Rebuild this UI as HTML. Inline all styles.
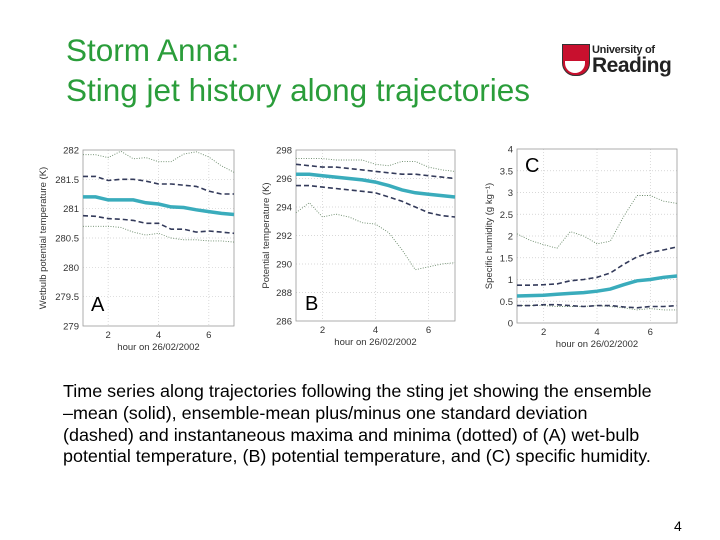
<!DOCTYPE html>
<html><head><meta charset="utf-8">
<style>
body{margin:0;width:720px;height:540px;background:#fff;position:relative;overflow:hidden;font-family:"Liberation Sans",Arial,sans-serif}
.title{position:absolute;left:66px;top:30px;color:#2a9d3a;font-size:31.5px;line-height:40px}
.caption{position:absolute;left:63px;top:381px;white-space:nowrap;font-size:17.95px;line-height:21.8px;color:#000}
.pnum{position:absolute;left:674px;top:518px;font-size:14px}
svg{position:absolute;left:0;top:0}
</style></head><body>
<div class="title">Storm Anna:<br>Sting jet history along trajectories</div>
<div style="position:absolute;left:562px;top:44px;width:105px;height:34px">
  <div style="position:absolute;left:0;top:0;width:26px;height:30px;background:#c8102e;border-radius:0 0 13px 13px;border:1px solid #333"></div>
  <div style="position:absolute;left:3px;top:17px;width:20px;height:12px;background:#fff;border-radius:0 0 10px 10px"></div>
  <div style="position:absolute;left:30px;top:0px;font-size:11px;font-weight:bold;color:#222;letter-spacing:-0.3px">University of</div>
  <div style="position:absolute;left:30px;top:10px;font-size:21px;font-weight:bold;color:#222;letter-spacing:-0.5px">Reading</div>
</div>
<svg id="chart" width="720" height="540"></svg>
<div class="caption">Time series along trajectories following the sting jet showing the ensemble<br>–mean (solid), ensemble-mean plus/minus one standard deviation<br>(dashed) and instantaneous maxima and minima (dotted) of (A) wet-bulb<br>potential temperature, (B) potential temperature, and (C) specific humidity.</div>
<div class="pnum">4</div>
<script>
const hours=[1,1.5,2,2.5,3,3.5,4,4.5,5,5.5,6,6.5,7];
const xTicks=[2,4,6];
const aTicks=[279,279.5,280,280.5,281,281.5,282];
const aMean=[281.2,281.2,281.15,281.15,281.15,281.1,281.08,281.03,281.02,280.98,280.95,280.92,280.9];
const aUp=[281.55,281.55,281.48,281.5,281.5,281.47,281.42,281.42,281.4,281.38,281.3,281.25,281.25];
const aLo=[280.88,280.87,280.83,280.82,280.8,280.75,280.75,280.65,280.65,280.6,280.62,280.6,280.58];
const aMax=[281.92,281.92,281.87,281.98,281.85,281.87,281.8,281.8,281.93,281.97,281.88,281.73,281.62];
const aMin=[280.7,280.7,280.7,280.68,280.6,280.55,280.58,280.5,280.47,280.47,280.45,280.45,280.43];
const bTicks=[286,288,290,292,294,296,298];
const bMean=[296.3,296.3,296.2,296.1,296.0,295.9,295.75,295.5,295.2,295.0,294.9,294.8,294.7];
const bUp=[297,296.9,296.8,296.8,296.7,296.6,296.5,296.4,296.3,296.3,296.2,296.1,296.0];
const bLo=[295.5,295.5,295.4,295.3,295.2,295.1,295.0,294.7,294.4,294.0,293.6,293.4,293.3];
const bMax=[297.4,297.4,297.4,297.3,297.3,297.3,297.0,296.9,297.2,297.2,296.8,296.6,296.5];
const bMin=[293.6,294.3,293.3,293.5,293.3,292.9,292.8,292.2,291.0,289.6,289.8,290.0,290.1];
const cTicks=[0,0.5,1,1.5,2,2.5,3,3.5,4];
const cMean=[0.62,0.63,0.64,0.66,0.68,0.7,0.73,0.78,0.88,0.97,1.0,1.05,1.08];
const cUp=[0.87,0.87,0.88,0.9,0.97,1.0,1.05,1.15,1.35,1.52,1.62,1.68,1.75];
const cLo=[0.4,0.4,0.42,0.42,0.4,0.38,0.4,0.4,0.37,0.35,0.38,0.38,0.4];
const cMax=[2.05,1.9,1.8,1.72,2.1,2.0,1.82,1.88,2.45,2.93,2.93,2.8,2.75];
const cMin=[0.4,0.4,0.4,0.38,0.38,0.38,0.4,0.38,0.35,0.3,0.33,0.3,0.3];

const svg=document.getElementById('chart');
const NS='http://www.w3.org/2000/svg';
function mk(t,a,p){const e=document.createElementNS(NS,t);for(const k in a)e.setAttribute(k,a[k]);(p||svg).appendChild(e);return e;}
function panel(id,L,R,T,B,ticks,tickLbl,ylabel,letter,lx,ly,series){
  const g=mk('g',{});
  
  
  const y0=ticks[0],y1=ticks[ticks.length-1];
  const sx=v=>L+(v-1)/6*(R-L), sy=v=>B-(v-y0)/(y1-y0)*(B-T);
  ticks.forEach(t=>{
    if(t!==y0&&t!==y1){const gl=mk('line',{x1:L,x2:R,y1:sy(t),y2:sy(t),stroke:'#ccc','stroke-width':0.7,'stroke-dasharray':'1 2'},g);
      }
    const tx=mk('text',{x:L-4,y:sy(t)+3.5,'text-anchor':'end','font-size':9.5,fill:'#333'},g);
    tx.textContent=tickLbl(t);
    
  });
  xTicks.forEach(t=>{
    const gl=mk('line',{x1:sx(t),x2:sx(t),y1:T,y2:B,stroke:'#ccc','stroke-width':0.7,'stroke-dasharray':'1 2'},g);
    
    const tx=mk('text',{x:sx(t),y:B+12,'text-anchor':'middle','font-size':9.5,fill:'#333'},g);
    tx.textContent=t;
    
  });
  const fr=mk('rect',{x:L,y:T,width:R-L,height:B-T,fill:'none',stroke:'#999','stroke-width':0.8},g);
  
  const xl=mk('text',{x:(L+R)/2,y:B+24,'text-anchor':'middle','font-size':9.5,fill:'#333'},g);
  xl.textContent='hour on 26/02/2002';
  
  const yl=mk('text',{x:0,y:0,'text-anchor':'middle','font-size':9.5,fill:'#333',transform:`translate(${ylabel[1]},${(T+B)/2}) rotate(-90)`},g);
  yl.textContent=ylabel[0];
  
  series.forEach(s=>{
    const d=s.v.map((v,i)=>(i?'L':'M')+sx(hours[i]).toFixed(1)+','+sy(v).toFixed(1)).join('');
    const p=mk('path',{d:d,fill:'none',stroke:s.c,'stroke-width':s.w,'stroke-dasharray':s.da||'none'},g);
    
  });
  const lt=mk('text',{x:lx,y:ly,'font-size':20,fill:'#000'},g);
  lt.textContent=letter;
  
}
function ser(mean,up,lo,mx,mn){return [
  {n:'max-dotted-line',v:mx,c:'#6a8a6a',w:0.9,da:'1 1.5'},
  {n:'min-dotted-line',v:mn,c:'#6a8a6a',w:0.9,da:'1 1.5'},
  {n:'plus-sd-dashed-line',v:up,c:'#333a5a',w:1.6,da:'5 3'},
  {n:'minus-sd-dashed-line',v:lo,c:'#333a5a',w:1.6,da:'5 3'},
  {n:'mean-solid-line',v:mean,c:'#3aacbc',w:3.5}];}
panel('a',83,234,150,326,aTicks,t=>t===Math.round(t)?String(t):t.toFixed(1),['Wetbulb potential temperature (K)',46],'A',91,311,ser(aMean,aUp,aLo,aMax,aMin));
panel('b',296,455,150,321,bTicks,t=>String(t),['Potential temperature (K)',269],'B',305,310,ser(bMean,bUp,bLo,bMax,bMin));
panel('c',517,677,149,323,cTicks,t=>String(t),['Specific humidity (g kg\u207B\u00B9)',492],'C',525,172,ser(cMean,cUp,cLo,cMax,cMin));
</script>
</body></html>
